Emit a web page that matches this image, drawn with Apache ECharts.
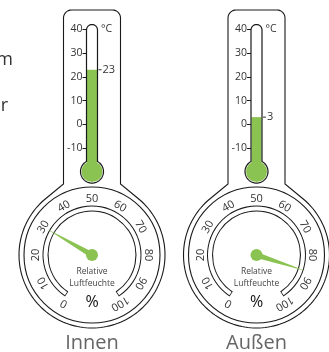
<!DOCTYPE html>
<html>
<head>
<meta charset="utf-8">
<script src="https://cdn.jsdelivr.net/npm/echarts@6/dist/echarts.min.js"></script>
<style>
  html, body { margin: 0; padding: 0; background: #fff; }
  #chart { width: 329px; height: 352px; }
</style>
</head>
<body>
<div id="chart"></div>
<script>
// Messwerte
const places = ['Innen', 'Außen'];
const temperatures = [23, 3];
const humidity = [30, 86];
// Skalen
const tempScale = [-20, 40];
const tempLabels = [-10, 0, 10, 20, 30, 40];
const humidityScale = [0, 100];
const humiditySteps = 10;

const FONT = '"Open Sans", "Noto Sans", sans-serif';
const GREEN = '#8bc352';
const INK = '#1a1a1a';

// Aufbau (Pixel)
const CX = [92, 256.5];
const GAUGE_Y = 255;
const AXIS_TOP = 29.5, AXIS_H = 142.1;
const BULB_Y = AXIS_TOP + AXIS_H;
const TUBE_HALF = 5.5, BULB_R = 11.5;

// Punkte auf einem Kreisbogen (Winkel in Grad, mathematisch)
function arc(cx, cy, r, a0, a1, n) {
	const pts = [];
	for (let i = 0; i <= n; i++) {
		const a = (a0 + (a1 - a0) * i / n) * Math.PI / 180;
		pts.push([cx + r * Math.cos(a), cy - r * Math.sin(a)]);
	}
	return pts;
}

// Gehaeuse: Rechteck oben, Kreis unten
function bodyPoints(cx) {
	const half = 28.5, top = 10, r = 8, sideEnd = 184, R = 73, flare = 48;
	const a = (180 - flare) * Math.PI / 180;
	let pts = [[cx + R * Math.cos(a), GAUGE_Y - R * Math.sin(a)]];
	pts.push([cx - half, sideEnd]);
	pts = pts.concat(arc(cx - half + r, top + r, r, 180, 90, 8));
	pts = pts.concat(arc(cx + half - r, top + r, r, 90, 0, 8));
	pts.push([cx + half, sideEnd]);
	pts = pts.concat(arc(cx, GAUGE_Y, R, flare, 180 - flare - 360, 120));
	return pts;
}

// Roehre mit Kugel
function tubePoints(cx) {
	const top = 30;
	const a = Math.asin(TUBE_HALF / BULB_R) * 180 / Math.PI;
	const yb = BULB_Y - Math.sqrt(BULB_R * BULB_R - TUBE_HALF * TUBE_HALF);
	let pts = [[cx - TUBE_HALF, yb]];
	pts = pts.concat(arc(cx, top, TUBE_HALF, 180, 0, 12));
	pts = pts.concat(arc(cx, BULB_Y, BULB_R, 90 - a, -270 + a, 60));
	return pts;
}

function renderFill(params, api) {
	const top = api.coord([0.5, api.value(1)]);
	const base = api.coord([0.5, tempScale[0]]);
	return {
		type: 'group',
		children: [
			{ type: 'rect', shape: { x: top[0] - 5, y: top[1], width: 10, height: base[1] - top[1] }, style: { fill: GREEN } },
			{ type: 'circle', shape: { cx: base[0], cy: base[1], r: BULB_R - 1 }, style: { fill: GREEN } },
			{ type: 'line', shape: { x1: top[0] + 6.5, y1: top[1], x2: top[0] + 9.5, y2: top[1] }, style: { stroke: '#333', lineWidth: 1 } },
			{ type: 'text', x: top[0] + 10.5, y: top[1], style: { text: String(api.value(1)), fill: '#333', fontSize: 11, fontFamily: FONT, align: 'left', verticalAlign: 'middle' } }
		]
	};
}

function gauge(cx, extra) {
	return Object.assign({
		type: 'gauge',
		center: [cx, GAUGE_Y],
		min: humidityScale[0],
		max: humidityScale[1],
		splitNumber: humiditySteps,
		startAngle: 240,
		endAngle: -60,
		silent: true,
		axisLine: { show: false, lineStyle: { width: 0 } },
		splitLine: { show: false, length: 0, distance: 0 },
		axisTick: { show: false },
		axisLabel: { show: false },
		pointer: { show: false },
		anchor: { show: false },
		title: { show: false },
		detail: { show: false },
		data: [{ value: 0 }]
	}, extra);
}

const grids = [], xAxes = [], yAxes = [], series = [], graphics = [];

places.forEach((name, i) => {
	const cx = CX[i];
	grids.push({ left: cx - TUBE_HALF, width: TUBE_HALF * 2, top: AXIS_TOP, height: AXIS_H });
	xAxes.push({ type: 'value', gridIndex: i, min: 0, max: 1, show: false });
	yAxes.push({
		type: 'value', gridIndex: i, min: tempScale[0], max: tempScale[1], interval: 10,
		axisLine: { show: false },
		splitLine: { show: false },
		axisTick: { show: true, length: 4, customValues: tempLabels, lineStyle: { color: INK, width: 1 } },
		axisLabel: { customValues: tempLabels, margin: 4, fontSize: 10.5, color: '#333', fontFamily: FONT }
	});

	// Thermometer-Fuellung
	series.push({
		type: 'custom', xAxisIndex: i, yAxisIndex: i, z: 2, silent: true,
		renderItem: renderFill,
		data: [[0.5, temperatures[i]]]
	});

	// Hygrometer
	series.push(gauge(cx, {
		z: 3, radius: 49.5, startAngle: 237, endAngle: -57,
		axisLine: { show: true, lineStyle: { width: 6, color: [[1, INK]] } }
	}));
	series.push(gauge(cx, {
		z: 4, radius: 48.5, startAngle: 236, endAngle: -56,
		axisLine: { show: true, lineStyle: { width: 4, color: [[1, '#fff']] } }
	}));
	series.push(gauge(cx, {
		z: 5, radius: 56,
		axisLabel: { show: true, distance: 0, rotate: 'tangential', fontSize: 11, color: '#333', fontFamily: FONT }
	}));
	series.push(gauge(cx, {
		z: 6, radius: 52,
		pointer: { show: true, length: '100%', width: 3, itemStyle: { color: GREEN } },
		anchor: { show: true, showAbove: true, size: 12, itemStyle: { color: GREEN, borderWidth: 0 } },
		data: [{ value: humidity[i] }]
	}));

	// Gehaeuse und Roehre
	graphics.push({ type: 'polygon', silent: true, z: 0, shape: { points: bodyPoints(cx) }, style: { fill: '#fff', stroke: INK, lineWidth: 1.1 } });
	graphics.push({ type: 'circle', silent: true, z: 0, shape: { cx: cx, cy: GAUGE_Y, r: 68 }, style: { fill: null, stroke: INK, lineWidth: 1.1 } });
	graphics.push({ type: 'polygon', silent: true, z: 1, shape: { points: tubePoints(cx) }, style: { fill: '#fff', stroke: null } });
	graphics.push({ type: 'polygon', silent: true, z: 10, shape: { points: tubePoints(cx) }, style: { fill: null, stroke: INK, lineWidth: 1.2 } });

	// Texte
	graphics.push({ type: 'text', silent: true, z: 10, x: cx + 9, y: 29.5, style: { text: '°C', fill: '#333', fontSize: 10.5, fontFamily: FONT, align: 'left', verticalAlign: 'middle' } });
	graphics.push({ type: 'text', silent: true, z: 10, x: cx, y: 272, style: { text: 'Relative', fill: '#444', fontSize: 8.5, fontFamily: FONT, align: 'center', verticalAlign: 'middle' } });
	graphics.push({ type: 'text', silent: true, z: 10, x: cx, y: 283.5, style: { text: 'Luftfeuchte', fill: '#444', fontSize: 8.5, fontFamily: FONT, align: 'center', verticalAlign: 'middle' } });
	graphics.push({ type: 'text', silent: true, z: 10, x: cx, y: 302, style: { text: '%', fill: '#111', fontSize: 16, fontFamily: FONT, align: 'center', verticalAlign: 'middle' } });
	graphics.push({ type: 'text', silent: true, z: 10, x: cx, y: 343, style: { text: name, fill: '#666', fontSize: 20, fontFamily: FONT, align: 'center', verticalAlign: 'middle' } });
});

// abgeschnittener Text am linken Rand
graphics.push({ type: 'text', silent: true, x: 13, y: 60, style: { text: 'm', fill: '#333', fontSize: 18, fontFamily: FONT, align: 'right', verticalAlign: 'middle' } });
graphics.push({ type: 'text', silent: true, x: 8, y: 105.5, style: { text: 'r', fill: '#333', fontSize: 18, fontFamily: FONT, align: 'right', verticalAlign: 'middle' } });

const chart = echarts.init(document.getElementById('chart'), null, { renderer: 'canvas' });
chart.setOption({
	animation: false,
	backgroundColor: '#fff',
	grid: grids,
	xAxis: xAxes,
	yAxis: yAxes,
	graphic: graphics,
	series: series
});
</script>
</body>
</html>
